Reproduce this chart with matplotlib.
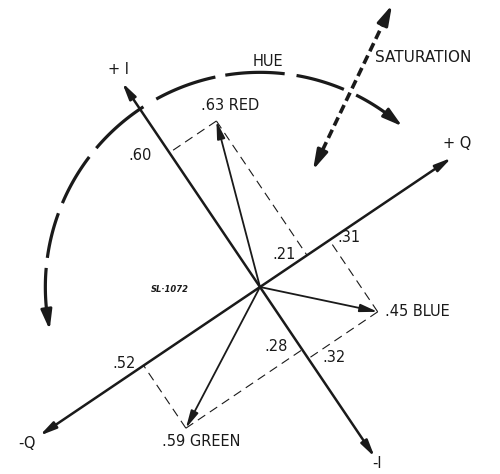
import numpy as np
import matplotlib
matplotlib.use('Agg')
import matplotlib.pyplot as plt

# ── data ──────────────────────────────────────────────────────────────────────
COLORS  = ["RED", "BLUE", "GREEN"]
I_COMP  = [0.60, -0.32, -0.28]
Q_COMP  = [0.21, 0.31, -0.52]
MAGN    = [0.63, 0.45, 0.59]
AXIS_LABELS = ["+ I", "-I", "+ Q", "-Q"]

# ── layout (pixels of a 500x474 canvas) ───────────────────────────────────────
W, H = 500, 474
OX, OY = 260, 287          # origin in pixels
SCALE = 270.0              # pixels per unit
TH_I, TH_Q = np.radians(124), np.radians(34)
UI = np.array([np.cos(TH_I), np.sin(TH_I)])
UQ = np.array([np.cos(TH_Q), np.sin(TH_Q)])

def P(px, py):
    return ((px - OX) / SCALE, (OY - py) / SCALE)

def iq(i, q):
    return i * UI + q * UQ

INK = '#1a1a1a'
fig = plt.figure(figsize=(W / 100, H / 100), dpi=100, facecolor='white')
ax = fig.add_axes([0, 0, 1, 1])
ax.set_xlim(-OX / SCALE, (W - OX) / SCALE)
ax.set_ylim(-(H - OY) / SCALE, OY / SCALE)
ax.set_aspect('equal')
ax.axis('off')

def arrow(p0, p1, lw, hl=0.7, hw=0.16, ls='-'):
    ax.annotate('', xy=p1, xytext=p0,
                arrowprops=dict(arrowstyle=f'-|>,head_length={hl},head_width={hw}',
                                lw=lw, color=INK, shrinkA=0, shrinkB=0,
                                mutation_scale=14, linestyle=ls))

# ── I / Q axes ────────────────────────────────────────────────────────────────
AXIS_LEN = {"+ I": 0.913 * UI, "-I": -0.76 * UI, "+ Q": 0.856 * UQ, "-Q": -0.985 * UQ}
for k in AXIS_LABELS:
    arrow((0, 0), tuple(AXIS_LEN[k]), lw=1.8)

ax.text(*P(118, 70), "+ I", fontsize=10.5, ha='center', va='center', color=INK)
ax.text(*P(377, 464), "-I", fontsize=10.5, ha='center', va='center', color=INK)
ax.text(*P(457, 143), "+ Q", fontsize=10.5, ha='center', va='center', color=INK)
ax.text(*P(27, 444), "-Q", fontsize=10.5, ha='center', va='center', color=INK)

# ── colour vectors & projections ──────────────────────────────────────────────
LBL_OFF = {"RED": (-15, 15, 'left'), "BLUE": (7, 0, 'left'), "GREEN": (-24, -13, 'left')}
I_OFF = {"RED": (-29, -3), "BLUE": (26, 1), "GREEN": (-26, 3)}
Q_OFF = {"RED": (-23, 1), "BLUE": (20, 3), "GREEN": (-20, 2)}

def fmt(v):
    return "." + f"{abs(v):.2f}".split(".")[1]

for name, i, q, m in zip(COLORS, I_COMP, Q_COMP, MAGN):
    tip = iq(i, q)
    pi = iq(i, 0)
    pq = iq(0, q)
    arrow((0, 0), tuple(tip), lw=1.3, hl=0.75, hw=0.17)
    ax.plot([tip[0], pi[0]], [tip[1], pi[1]], color=INK, lw=0.8, ls=(0, (8, 5)))
    ax.plot([tip[0], pq[0]], [tip[1], pq[1]], color=INK, lw=0.8, ls=(0, (8, 5)))
    dx, dy, ha = LBL_OFF[name]
    ax.annotate(f"{fmt(m)} {name}", xy=tuple(tip), xytext=(dx, dy),
                textcoords='offset pixels', ha=ha, va='center',
                fontsize=10.5, color=INK)
    ax.annotate(fmt(i), xy=tuple(pi), xytext=I_OFF[name], textcoords='offset pixels',
                ha='center', va='center', fontsize=10.5, color=INK)
    ax.annotate(fmt(q), xy=tuple(pq), xytext=Q_OFF[name], textcoords='offset pixels',
                ha='center', va='center', fontsize=10.5, color=INK)

# ── hue arc (dashed, arrow at both ends) ──────────────────────────────────────
R_ARC = 0.795
SEGS = [(189, 174.9), (172.2, 159.9), (157, 142.7), (139.7, 122.9),
        (118.9, 102), (99.3, 83.4), (80.2, 67), (63.4, 52)]
for a0, a1 in SEGS:
    t = np.radians(np.linspace(a0, a1, 40))
    ax.plot(R_ARC * np.cos(t), R_ARC * np.sin(t), color=INK, lw=2.3,
            solid_capstyle='butt')
for a_from, a_to in [(186, 191.5), (53.5, 48.5)]:
    p0 = (R_ARC * np.cos(np.radians(a_from)), R_ARC * np.sin(np.radians(a_from)))
    p1 = (R_ARC * np.cos(np.radians(a_to)), R_ARC * np.sin(np.radians(a_to)))
    arrow(p0, p1, lw=2.0, hl=0.85, hw=0.24)
ax.text(*P(268, 61), "HUE", fontsize=10.5, ha='center', va='center', color=INK)

# ── saturation arrow ──────────────────────────────────────────────────────────
s0, s1 = np.array(P(313, 170)), np.array(P(392, 5))
d = (s1 - s0) / np.linalg.norm(s1 - s0)
ax.plot([s0[0] + d[0] * 0.03, s1[0] - d[0] * 0.03],
        [s0[1] + d[1] * 0.03, s1[1] - d[1] * 0.03],
        color=INK, lw=2.6, ls=(0, (2.5, 1.3)))
arrow(tuple(s0 + d * 0.05), tuple(s0), lw=2.2, hl=0.85, hw=0.24)
arrow(tuple(s1 - d * 0.05), tuple(s1), lw=2.2, hl=0.85, hw=0.24)
ax.text(*P(375, 57), "SATURATION", fontsize=11, ha='left', va='center', color=INK)

ax.text(*P(170, 290), "SL·1072", fontsize=6, style='italic', fontweight='bold',
        ha='center', va='center', color=INK)

fig.savefig('out.png', dpi=100, facecolor='white')
